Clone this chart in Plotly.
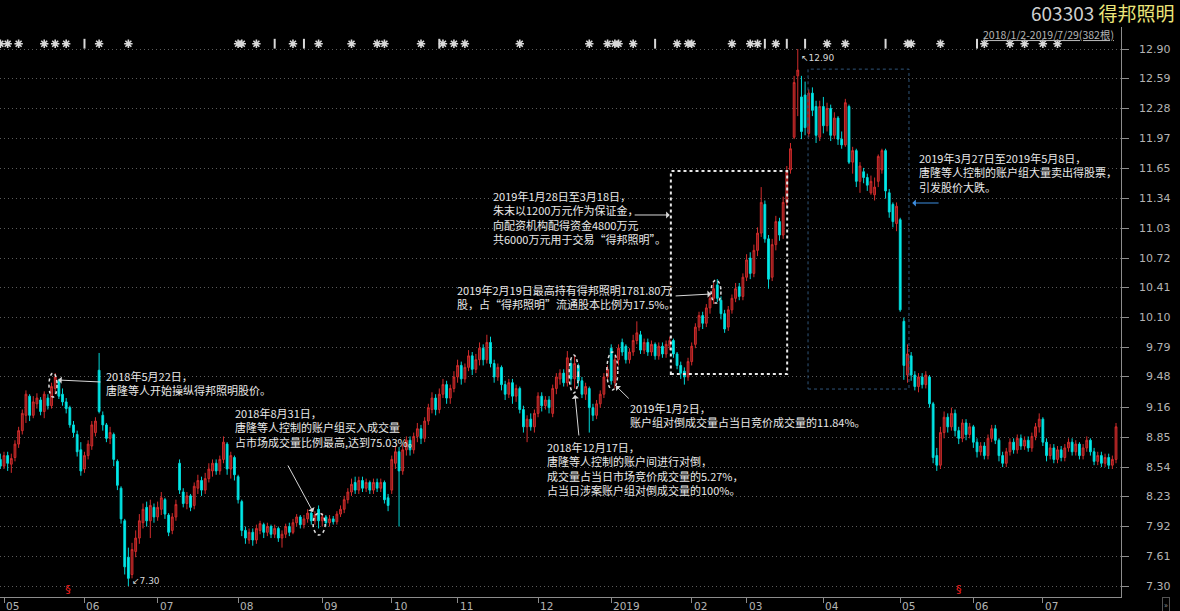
import plotly.graph_objects as go

# ---------------- DATA: daily bars (open, close, high, low) ----------------
apr18 = [(8.62, 8.55, 8.68, 8.52)]
may18 = [(8.55, 8.66, 8.70, 8.52), (8.66, 8.58, 8.70, 8.50), (8.57, 8.63, 8.68, 8.48),
         (8.64, 8.78, 8.82, 8.60), (8.78, 8.92, 8.96, 8.74), (8.92, 9.10, 9.14, 8.88),
         (9.08, 9.30, 9.34, 9.00), (9.28, 9.08, 9.30, 9.02), (9.08, 9.22, 9.28, 9.05),
         (9.20, 9.26, 9.31, 9.15), (9.24, 9.12, 9.27, 9.08), (9.12, 9.30, 9.33, 9.05),
         (9.26, 9.18, 9.30, 9.14), (9.18, 9.38, 9.42, 9.15), (9.36, 9.48, 9.52, 9.30),
         (9.44, 9.28, 9.46, 9.25), (9.30, 9.22, 9.36, 9.18), (9.22, 9.15, 9.26, 9.10),
         (9.16, 8.98, 9.18, 8.95), (8.98, 8.90, 9.02, 8.85), (8.88, 8.70, 8.92, 8.65),
         (8.72, 8.50, 8.80, 8.45)]
jun18 = [(8.52, 8.66, 8.70, 8.48), (8.66, 8.78, 8.82, 8.62), (8.76, 8.98, 9.02, 8.72),
         (8.90, 9.02, 9.06, 8.86), (9.55, 9.12, 9.73, 9.10), (9.08, 8.98, 9.12, 8.92),
         (8.98, 8.84, 9.00, 8.80), (8.84, 8.90, 8.96, 8.78), (8.88, 8.62, 8.90, 8.55),
         (8.60, 8.35, 8.62, 8.30), (8.32, 8.00, 8.34, 7.95), (7.98, 7.50, 8.00, 7.42),
         (7.60, 7.38, 7.70, 7.30), (7.42, 7.68, 7.75, 7.38), (7.66, 7.80, 7.88, 7.60),
         (7.80, 7.98, 8.05, 7.74), (7.96, 8.10, 8.16, 7.90), (8.12, 7.98, 8.18, 7.92),
         (7.98, 8.14, 8.20, 7.80), (8.12, 8.02, 8.16, 7.96)]
jul18 = [(8.02, 8.12, 8.18, 7.98), (8.10, 8.22, 8.28, 8.04), (8.20, 8.05, 8.22, 8.00),
         (8.04, 7.86, 8.06, 7.82), (7.88, 8.02, 8.06, 7.84), (8.02, 8.15, 8.20, 7.98),
         (8.58, 8.30, 8.62, 8.26), (8.28, 8.16, 8.32, 8.12), (8.16, 8.24, 8.28, 8.10),
         (8.24, 8.12, 8.26, 8.08), (8.14, 8.34, 8.38, 8.10), (8.32, 8.40, 8.46, 8.26),
         (8.40, 8.30, 8.44, 8.24), (8.30, 8.42, 8.48, 8.26), (8.42, 8.52, 8.58, 8.38),
         (8.50, 8.58, 8.62, 8.44), (8.58, 8.50, 8.62, 8.46), (8.50, 8.62, 8.66, 8.46),
         (8.62, 8.80, 8.86, 8.58), (8.78, 8.52, 8.80, 8.46), (8.52, 8.66, 8.70, 8.42),
         (8.64, 8.46, 8.66, 8.40)]
aug18 = [(8.44, 8.20, 8.46, 8.16), (8.18, 7.88, 8.20, 7.82), (7.88, 7.80, 7.92, 7.74),
         (7.78, 7.86, 7.90, 7.74), (7.86, 7.78, 7.90, 7.72), (7.78, 7.90, 7.94, 7.74),
         (7.88, 7.95, 7.98, 7.84), (7.94, 7.86, 7.96, 7.80), (7.86, 7.92, 7.96, 7.82),
         (7.92, 7.84, 7.94, 7.80), (7.84, 7.90, 7.94, 7.80), (7.90, 7.80, 7.92, 7.76),
         (7.80, 7.84, 7.88, 7.70), (7.84, 7.92, 7.95, 7.80), (7.92, 7.86, 7.96, 7.82),
         (7.86, 7.96, 8.00, 7.84), (7.96, 8.02, 8.05, 7.92), (8.02, 7.94, 8.04, 7.90),
         (7.94, 8.00, 8.04, 7.90), (8.00, 8.06, 8.10, 7.96), (8.06, 7.98, 8.08, 7.94),
         (7.98, 8.04, 8.08, 7.94), (8.10, 7.98, 8.14, 7.90)]
sep18 = [(7.98, 8.02, 8.06, 7.92), (8.02, 7.96, 8.04, 7.92), (7.96, 8.00, 8.04, 7.92),
         (8.00, 7.97, 8.03, 7.94), (7.97, 8.05, 8.08, 7.94), (8.05, 8.10, 8.14, 8.02),
         (8.10, 8.20, 8.24, 8.06), (8.20, 8.28, 8.32, 8.16), (8.28, 8.36, 8.42, 8.24),
         (8.38, 8.30, 8.44, 8.26), (8.30, 8.40, 8.44, 8.26), (8.40, 8.32, 8.44, 8.28),
         (8.32, 8.38, 8.42, 8.28), (8.38, 8.30, 8.40, 8.26), (8.30, 8.38, 8.42, 8.26),
         (8.38, 8.32, 8.42, 8.28), (8.32, 8.38, 8.42, 8.28), (8.38, 8.20, 8.40, 8.16),
         (8.22, 8.14, 8.26, 8.08)]
oct18 = [(8.30, 8.62, 8.66, 8.26), (8.58, 8.70, 8.76, 8.52), (8.70, 8.50, 8.75, 7.92),
         (8.50, 8.72, 8.78, 8.46), (8.72, 8.82, 8.86, 8.66), (8.82, 8.72, 8.86, 8.66),
         (8.72, 8.86, 8.90, 8.68), (8.86, 8.94, 9.00, 8.80), (8.94, 8.84, 8.98, 8.78),
         (8.84, 9.02, 9.06, 8.80), (9.02, 9.16, 9.20, 8.98), (9.14, 9.26, 9.32, 9.10),
         (9.26, 9.14, 9.30, 9.08), (9.14, 9.30, 9.36, 9.10), (9.30, 9.40, 9.46, 9.26),
         (9.40, 9.26, 9.44, 9.20), (9.26, 9.36, 9.40, 9.20), (9.36, 9.48, 9.54, 9.32)]
nov18 = [(9.48, 9.60, 9.66, 9.42), (9.60, 9.46, 9.64, 9.40), (9.46, 9.58, 9.62, 9.42),
         (9.58, 9.70, 9.76, 9.54), (9.70, 9.56, 9.74, 9.50), (9.56, 9.66, 9.72, 9.52),
         (9.66, 9.78, 9.84, 9.60), (9.78, 9.66, 9.82, 9.60), (9.66, 9.84, 9.92, 9.62),
         (9.84, 9.62, 9.90, 9.58), (9.62, 9.48, 9.66, 9.42), (9.48, 9.58, 9.62, 9.44),
         (9.58, 9.40, 9.60, 9.34), (9.40, 9.30, 9.44, 9.24), (9.30, 9.42, 9.46, 9.26),
         (9.42, 9.28, 9.46, 9.20), (9.28, 9.36, 9.40, 9.22), (9.36, 9.14, 9.38, 9.10),
         (9.14, 8.96, 9.18, 8.90), (8.96, 9.04, 9.08, 8.80), (9.04, 8.96, 9.10, 8.92),
         (8.96, 9.10, 9.14, 8.90)]
dec18 = [(9.10, 9.28, 9.32, 9.06), (9.28, 9.18, 9.32, 9.12), (9.18, 9.24, 9.28, 9.14),
         (9.24, 9.16, 9.28, 9.10), (9.10, 9.36, 9.40, 9.06), (9.36, 9.48, 9.52, 9.30),
         (9.46, 9.52, 9.56, 9.40), (9.52, 9.42, 9.56, 9.38), (9.42, 9.68, 9.75, 9.38),
         (9.62, 9.46, 9.66, 9.40), (9.46, 9.62, 9.70, 9.36), (9.60, 9.44, 9.62, 9.38),
         (9.44, 9.30, 9.48, 9.26), (9.30, 9.38, 9.42, 9.24), (9.36, 9.16, 9.38, 8.90),
         (9.16, 9.08, 9.20, 9.02), (9.08, 9.20, 9.24, 9.04), (9.20, 9.30, 9.34, 9.16),
         (9.30, 9.48, 9.52, 9.26), (9.48, 9.56, 9.60, 9.44)]
jan19 = [(9.78, 9.44, 9.82, 9.40), (9.42, 9.66, 9.70, 9.36), (9.66, 9.78, 9.82, 9.60),
         (9.84, 9.74, 9.88, 9.70), (9.80, 9.66, 9.82, 9.62), (9.66, 9.74, 9.78, 9.62),
         (9.74, 9.86, 9.92, 9.70), (9.86, 9.94, 10.06, 9.82), (9.92, 9.76, 9.96, 9.72),
         (9.76, 9.84, 9.88, 9.72), (9.84, 9.74, 9.88, 9.70), (9.74, 9.82, 9.86, 9.70),
         (9.82, 9.70, 9.84, 9.66), (9.70, 9.80, 9.84, 9.66), (9.80, 9.72, 9.84, 9.68),
         (9.72, 9.82, 9.86, 9.68), (9.80, 9.86, 9.90, 9.76), (9.86, 9.72, 9.88, 9.68),
         (9.72, 9.60, 9.74, 9.56), (9.60, 9.52, 9.64, 9.46), (9.54, 9.48, 9.58, 9.40),
         (9.48, 9.64, 9.68, 9.44)]
feb19 = [(9.64, 9.80, 9.84, 9.60), (9.82, 10.00, 10.04, 9.78), (10.00, 10.12, 10.16, 9.96),
         (10.12, 10.04, 10.16, 9.98), (10.04, 10.20, 10.24, 10.00), (10.20, 10.30, 10.36, 10.14),
         (10.30, 10.40, 10.46, 10.24), (10.44, 10.30, 10.50, 10.26), (10.28, 10.14, 10.32, 10.08),
         (10.14, 9.98, 10.18, 9.94), (10.00, 10.18, 10.22, 9.96), (10.18, 10.30, 10.34, 10.14),
         (10.30, 10.40, 10.46, 10.26), (10.42, 10.32, 10.46, 10.28), (10.32, 10.52, 10.56, 10.28)]
mar19 = [(10.52, 10.70, 10.76, 10.48), (10.72, 10.56, 10.78, 10.50), (10.56, 10.80, 10.86, 10.52),
         (10.80, 10.98, 11.04, 10.74), (10.98, 11.30, 11.46, 10.94), (11.28, 10.92, 11.32, 10.88),
         (10.92, 10.50, 10.96, 10.40), (10.52, 10.86, 10.92, 10.48), (10.86, 11.10, 11.16, 10.80),
         (11.10, 10.96, 11.14, 10.90), (10.96, 11.30, 11.36, 10.92), (11.30, 11.62, 11.68, 11.26),
         (11.64, 11.86, 11.92, 11.60), (11.98, 12.55, 12.62, 11.96), (12.62, 12.68, 12.90, 12.20),
         (12.40, 12.04, 12.62, 11.96), (12.42, 12.08, 12.56, 12.00), (12.02, 12.44, 12.48, 11.98),
         (12.44, 12.26, 12.50, 12.20), (12.30, 12.00, 12.36, 11.92), (11.98, 12.30, 12.36, 11.94)]
apr19 = [(12.30, 12.10, 12.40, 12.02), (12.10, 12.28, 12.34, 12.04), (12.28, 12.00, 12.32, 11.94),
         (12.00, 12.18, 12.24, 11.96), (12.18, 11.96, 12.20, 11.90), (11.96, 11.90, 12.04, 11.86),
         (11.90, 12.34, 12.38, 11.88), (12.30, 11.72, 12.32, 11.70), (11.72, 11.84, 11.88, 11.60),
         (11.84, 11.52, 11.86, 11.46), (11.52, 11.68, 11.72, 11.40), (11.62, 11.56, 11.66, 11.50),
         (11.56, 11.48, 11.60, 11.42), (11.40, 11.52, 11.58, 11.38), (11.38, 11.46, 11.56, 11.32),
         (11.52, 11.78, 11.80, 11.46), (11.64, 11.84, 11.86, 11.60), (11.84, 11.42, 11.86, 11.34),
         (11.40, 11.20, 11.44, 11.14), (11.28, 11.10, 11.30, 11.04), (11.08, 11.26, 11.30, 11.00)]
may19 = [(11.12, 10.18, 11.14, 10.16), (10.06, 9.60, 10.10, 9.45), (9.50, 9.72, 9.82, 9.42),
         (9.70, 9.50, 9.74, 9.44), (9.50, 9.38, 9.54, 9.34), (9.38, 9.48, 9.52, 9.32),
         (9.48, 9.40, 9.52, 9.36), (9.40, 9.50, 9.54, 9.36), (9.48, 9.20, 9.50, 9.16),
         (9.20, 8.64, 9.22, 8.58), (8.66, 8.56, 8.74, 8.50), (8.56, 8.90, 8.96, 8.52),
         (8.90, 9.06, 9.12, 8.84), (9.06, 8.96, 9.10, 8.90), (8.96, 9.10, 9.16, 8.92),
         (9.10, 8.92, 9.14, 8.86), (8.92, 8.84, 8.96, 8.78), (8.84, 9.00, 9.04, 8.80),
         (9.00, 8.88, 9.04, 8.82), (8.88, 8.96, 9.00, 8.84)]
jun19 = [(8.96, 8.80, 8.98, 8.74), (8.80, 8.70, 8.84, 8.64), (8.70, 8.76, 8.80, 8.66),
         (8.76, 8.66, 8.80, 8.62), (8.66, 8.84, 8.88, 8.62), (8.84, 8.94, 8.98, 8.80),
         (8.94, 8.82, 8.98, 8.78), (8.82, 8.66, 8.84, 8.60), (8.66, 8.58, 8.70, 8.54),
         (8.58, 8.70, 8.74, 8.54), (8.70, 8.80, 8.84, 8.66), (8.80, 8.72, 8.84, 8.68),
         (8.72, 8.84, 8.88, 8.68), (8.84, 8.76, 8.88, 8.72), (8.76, 8.82, 8.86, 8.72),
         (8.82, 8.74, 8.86, 8.70), (8.74, 8.86, 8.90, 8.70), (8.86, 8.96, 9.00, 8.82),
         (8.96, 9.04, 9.10, 8.90)]
jul19 = [(9.04, 8.80, 9.06, 8.76), (8.80, 8.66, 8.84, 8.60), (8.66, 8.74, 8.78, 8.62),
         (8.74, 8.62, 8.78, 8.58), (8.62, 8.72, 8.76, 8.58), (8.72, 8.64, 8.76, 8.60),
         (8.64, 8.74, 8.78, 8.60), (8.74, 8.80, 8.84, 8.70), (8.80, 8.70, 8.84, 8.66),
         (8.70, 8.78, 8.82, 8.66), (8.78, 8.66, 8.80, 8.62), (8.66, 8.74, 8.78, 8.62),
         (8.74, 8.82, 8.86, 8.70), (8.82, 8.70, 8.84, 8.66), (8.70, 8.60, 8.74, 8.56),
         (8.60, 8.66, 8.70, 8.56), (8.66, 8.58, 8.70, 8.54), (8.58, 8.64, 8.68, 8.54),
         (8.64, 8.56, 8.68, 8.52), (8.56, 8.62, 8.66, 8.52), (8.62, 8.96, 9.00, 8.58)]

month_labels = ["05", "06", "07", "08", "09", "10", "11", "12", "2019",
                "02", "03", "04", "05", "06", "07"]
price_ticks = ["7.30", "7.61", "7.92", "8.23", "8.54", "8.85", "9.16", "9.48", "9.79",
               "10.10", "10.41", "10.72", "11.03", "11.34", "11.65", "11.97", "12.28",
               "12.59", "12.90"]

# event markers on the top strip (bar indices)
star_bars = [0, 2, 5, 12, 15, 18, 27, 35, 65, 66, 70, 80, 87, 96, 103, 105, 115, 121, 124,
             127, 142, 161, 166, 168, 169, 173, 185, 188, 189, 200, 205, 207, 212, 226, 231,
             248, 249, 257, 269, 276, 280, 285, 289]
tick_bars = [23, 75, 83, 120, 179, 209, 215, 220, 242, 267]
dividend_bars = [18.5, 262]

# annotation texts: (bar index, price, text)
notes = [
    (28.4, 9.42, "2018年5月22日，<br>唐隆等人开始操纵得邦照明股价。"),
    (63.7, 8.95, "2018年8月31日，<br>唐隆等人控制的账户组买入成交量<br>占市场成交量比例最高,达到75.03%。"),
    (149.0, 8.525, "2018年12月17日，<br>唐隆等人控制的账户间进行对倒，<br>成交量占当日市场竞价成交量的5.27%，<br>占当日涉案账户组对倒成交量的100%。"),
    (171.6, 9.088, "2019年1月2日，<br>账户组对倒成交量占当日竞价成交量的11.84%。"),
    (124.3, 10.31, "2019年2月19日最高持有得邦照明1781.80万<br>股，占“得邦照明”流通股本比例为17.5%。"),
    (134.1, 11.148, "2019年1月28日至3月18日，<br>朱末以1200万元作为保证金，<br>向配资机构配得资金4800万元<br>共6000万元用于交易“得邦照明”。"),
    (250.6, 11.617, "2019年3月27日至2019年5月8日，<br>唐隆等人控制的账户组大量卖出得股票，<br>引发股价大跌。"),
]
# arrows: (tip index, tip price, tail index, tail price, colour)
arrows = [
    (15.8, 9.448, 27.8, 9.427, "#d8d8d8"),
    (85.5, 8.072, 78.4, 8.572, "#d8d8d8"),
    (157.1, 9.292, 158.2, 8.854, "#d8d8d8"),
    (168.3, 9.386, 172.2, 9.240, "#d8d8d8"),
    (194.3, 10.345, 184.2, 10.324, "#d8d8d8"),
    (183.0, 11.169, 173.0, 11.169, "#d8d8d8"),
    (249.3, 11.294, 256.9, 11.294, "#3d8ee0"),
]
# dotted ellipses: (index0, index1, price0, price1)
ellipses = [(13.3, 15.5, 9.52, 9.27), (85.5, 88.8, 8.061, 7.832), (155.5, 158.0, 9.709, 9.313),
            (165.8, 168.8, 9.74, 9.344), (194.3, 197.0, 10.49, 10.25)]
# dotted boxes: (index0, index1, price0, price1, colour, width)
boxes = [(183.3, 215.1, 9.51, 11.627, "#e8e8e8", 2), (220.8, 248.4, 9.354, 12.69, "#2e5378", 1)]

# ---------------- build ----------------
months = [apr18, may18, jun18, jul18, aug18, sep18, oct18, nov18, dec18,
          jan19, feb19, mar19, apr19, may19, jun19, jul19]
bars = [b for m in months for b in m]
opens = [b[0] for b in bars]
closes = [b[1] for b in bars]
highs = [b[2] for b in bars]
lows = [b[3] for b in bars]
xs = list(range(len(bars)))
month_starts = []
pos = len(months[0])
for m in months[1:]:
    month_starts.append(pos)
    pos += len(m)

W, H = 1180, 611
ML, MR, MT, MB = 0, 59, 27, 14
PW, PH = W - ML - MR, H - MT - MB
X0, X1 = -0.0935, 306.36
Y0, Y1 = 7.1853, 13.1294


def px_to_paper(px, py):
    return (px - ML) / PW, (H - MB - py) / PH


fig = go.Figure()
fig.add_trace(go.Candlestick(
    x=xs, open=opens, high=highs, low=lows, close=closes,
    increasing=dict(line=dict(color="#d02c2c", width=1), fillcolor="#7a1616"),
    decreasing=dict(line=dict(color="#00d8d8", width=1), fillcolor="#00f0f0"),
    whiskerwidth=0, hoverinfo="skip"))

fig.add_trace(go.Scatter(x=star_bars, y=[12.955] * len(star_bars), mode="markers",
                         marker=dict(symbol="asterisk-open", size=7, color="#d8d8d8",
                                     line=dict(color="#d8d8d8", width=1.6)),
                         hoverinfo="skip"))
fig.add_trace(go.Scatter(x=tick_bars, y=[12.955] * len(tick_bars), mode="markers",
                         marker=dict(symbol="line-ns-open", size=7, color="#d8d8d8",
                                     line=dict(color="#d8d8d8", width=2)),
                         hoverinfo="skip"))
fig.add_trace(go.Scatter(x=dividend_bars, y=[7.255] * len(dividend_bars), mode="text",
                         text=["§"] * len(dividend_bars),
                         textfont=dict(color="#ff2020", size=11, family="DejaVu Sans"),
                         hoverinfo="skip"))

fig.update_layout(
    width=W, height=H, margin=dict(l=ML, r=MR, t=MT, b=MB),
    paper_bgcolor="black", plot_bgcolor="black", showlegend=False,
    font=dict(family="Noto Sans CJK SC", color="#e6e6e6"),
    xaxis=dict(range=[X0, X1], rangeslider=dict(visible=False), showgrid=False,
               zeroline=False, tickvals=month_starts, showticklabels=False,
               ticks="outside", ticklen=5, tickcolor="#8c8c8c",
               showline=True, linecolor="#8c8c8c", linewidth=1),
    yaxis=dict(range=[Y0, Y1], side="right", tickvals=[float(t) for t in price_ticks],
               showticklabels=False, ticks="outside", ticklen=7, tickcolor="#8c8c8c",
               showline=True, linecolor="#8c8c8c", linewidth=1, zeroline=False,
               showgrid=True, gridcolor="#5a5a5a", griddash="1px,3px", gridwidth=1),
)

# y tick labels (right aligned)
for t in price_ticks:
    fig.add_annotation(x=px_to_paper(1173, 0)[0], xref="paper", y=float(t), yref="y",
                       text=t, showarrow=False, xanchor="right", yanchor="middle",
                       font=dict(size=11, color="#b4b4b4", family="DejaVu Sans"))
# month labels
for i, lab in zip(month_starts, month_labels):
    fig.add_annotation(x=i, xref="x", y=0, yref="paper", text=lab, showarrow=False,
                       xanchor="left", yanchor="top", xshift=0, yshift=-1,
                       font=dict(size=10.5, color="#b4b4b4", family="DejaVu Sans"))

# header
hx, hy = px_to_paper(1177, 13)
fig.add_annotation(x=hx, y=hy, xref="paper", yref="paper", showarrow=False,
                   xanchor="right", yanchor="middle",
                   text="603303 <span style='color:#ece57a'>得邦照明</span>",
                   font=dict(size=19, color="#d0d0d0", family="Noto Sans CJK SC"))
rx, ry = px_to_paper(981, 34)
fig.add_annotation(x=rx, y=ry, xref="paper", yref="paper", showarrow=False,
                   xanchor="left", yanchor="middle",
                   text="<u>2018/1/2-2019/7/29(382根)</u>",
                   font=dict(size=10.5, color="#b4b4b4", family="Noto Sans CJK SC"))
bx, by = px_to_paper(1166, 604)
fig.add_annotation(x=bx, y=by, xref="paper", yref="paper", showarrow=False,
                   xanchor="center", yanchor="middle", text="»",
                   font=dict(size=8, color="#9a9a9a"), bordercolor="#555555",
                   borderwidth=1, borderpad=1)

# high / low labels
hi_idx = highs.index(max(highs))
lo_idx = lows.index(min(lows))
fig.add_annotation(x=hi_idx, y=max(highs), text="↖12.90", showarrow=False,
                   xanchor="left", yanchor="top", xshift=1, yshift=-2,
                   font=dict(size=9, color="#d8d8d8", family="DejaVu Sans"))
fig.add_annotation(x=lo_idx, y=min(lows), text="↙7.30", showarrow=False,
                   xanchor="left", yanchor="middle", xshift=2, yshift=5,
                   font=dict(size=9, color="#d8d8d8", family="DejaVu Sans"))

# notes
for xi, yp, txt in notes:
    fig.add_annotation(x=xi, y=yp, text=txt, showarrow=False, xanchor="left",
                       yanchor="middle", align="left",
                       font=dict(size=11, color="#e8e8e8", family="Noto Sans CJK SC"))
for tx, ty, sx, sy, c in arrows:
    fig.add_annotation(x=tx, y=ty, ax=sx, ay=sy, axref="x", ayref="y", text="",
                       showarrow=True, arrowhead=1, arrowsize=1.2, arrowwidth=1,
                       arrowcolor=c, standoff=0, startstandoff=0)
for x0, x1, y0, y1 in ellipses:
    fig.add_shape(type="circle", x0=x0, x1=x1, y0=y0, y1=y1, xref="x", yref="y",
                  line=dict(color="#e0e0e0", width=1.5, dash="dot"))
for x0, x1, y0, y1, c, w in boxes:
    fig.add_shape(type="rect", x0=x0, x1=x1, y0=y0, y1=y1, xref="x", yref="y",
                  line=dict(color=c, width=w, dash="dot"))

fig.write_html("out.html")
